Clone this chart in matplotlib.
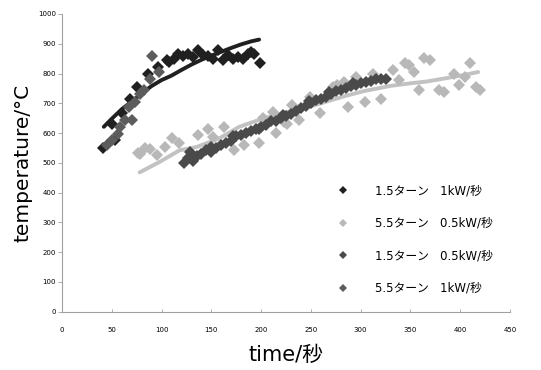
import matplotlib
matplotlib.use("Agg")
import matplotlib.pyplot as plt
from matplotlib.lines import Line2D

# --- data ---
labels = ["1.5ターン   1kW/秒", "5.5ターン   0.5kW/秒",
          "1.5ターン   0.5kW/秒", "5.5ターン   1kW/秒"]
colors = ["#202020", "#b8b8b8", "#4a4a4a", "#5c5c5c"]

# 1.5 turn, 1 kW/s
s1_x = [41, 50, 53, 60, 68, 75, 86, 96, 105, 107, 112, 117, 122, 127, 132, 137,
        142, 147, 152, 157, 162, 167, 172, 177, 182, 187, 190, 193, 199]
s1_y = [550, 632, 576, 666, 716, 755, 800, 822, 845, 839, 850, 865, 858, 867, 855, 878,
        862, 858, 850, 878, 845, 862, 850, 856, 848, 865, 872, 867, 834]
s1_line_x = [42, 50, 60, 70, 80, 90, 100, 110, 120, 130, 140, 150, 160, 170, 180, 190, 198]
s1_line_y = [621, 648, 680, 706, 733, 758, 778, 793, 812, 830, 846, 860, 873, 886, 898, 908, 914]

# 5.5 turn, 0.5 kW/s
s2_x = [76, 78, 83, 88, 95, 103, 110, 118, 137, 147, 152, 163, 173, 183, 198, 202,
        212, 215, 223, 226, 231, 238, 249, 259, 272, 276, 283, 287, 295, 304, 312, 320,
        332, 339, 345, 349, 354, 359, 364, 370, 379, 384, 394, 399, 405, 410, 416, 420]
s2_y = [532, 531, 549, 548, 526, 554, 582, 565, 593, 615, 588, 621, 542, 559, 565, 649,
        671, 599, 638, 632, 694, 643, 721, 666, 755, 761, 772, 688, 789, 705, 800, 716,
        811, 778, 834, 828, 806, 744, 851, 845, 744, 739, 800, 761, 789, 836, 755, 744]
s2_line_x = [78, 98, 118, 135, 158, 178, 202, 228, 250, 268, 285, 302, 329, 352, 366, 399, 418]
s2_line_y = [468, 503, 542, 553, 582, 621, 649, 672, 690, 708, 725, 740, 758, 768, 773, 792, 805]

# 1.5 turn, 0.5 kW/s
s3_x = [123, 127, 129, 132, 136, 140, 145, 150, 155, 160, 165, 170, 175, 180, 185, 190,
        195, 200, 205, 210, 215, 220, 225, 230, 235, 240, 245, 250, 255, 260, 265, 270,
        275, 280, 285, 290, 295, 300, 305, 310, 315, 320, 325,
        150, 172, 198, 222, 248, 268, 292]
s3_y = [500, 515, 537, 505, 522, 530, 542, 535, 550, 560, 568, 575, 590, 593, 600, 608,
        615, 622, 628, 640, 642, 650, 658, 665, 675, 683, 690, 700, 710, 716, 722, 732,
        740, 744, 752, 758, 762, 768, 772, 776, 780, 783, 780,
        552, 590, 612, 662, 708, 738, 768]

# 5.5 turn, 1 kW/s
s4_x = [45, 50, 56, 58, 63, 67, 70, 73, 78, 82, 88, 90, 97]
s4_y = [560, 578, 598, 620, 644, 688, 644, 705, 730, 745, 783, 858, 806]

xticks = list(range(0, 451, 50))
yticks = list(range(0, 1001, 100))

fig = plt.figure(figsize=(5.41, 3.70), dpi=100)
ax = fig.add_axes([0.1146, 0.1576, 0.8281, 0.8046])

ms = 6.0
# series drawn in worksheet order
ax.plot(s1_line_x, s1_line_y, color=colors[0], lw=2.8, solid_capstyle="round", zorder=2)
ax.plot(s1_x, s1_y, "D", color=colors[0], ms=ms, mew=0, zorder=2)
ax.plot(s2_line_x, s2_line_y, color="#c2c2c2", lw=2.8, solid_capstyle="round", zorder=3)
ax.plot(s2_x, s2_y, "D", color=colors[1], ms=ms, mew=0, zorder=3)
ax.plot(s3_x, s3_y, "D", color=colors[2], ms=ms, mew=0, zorder=4)
ax.plot(s4_x, s4_y, "D", color=colors[3], ms=ms, mew=0, zorder=5)

ax.set_xlim(0, 450)
ax.set_ylim(0, 1000)
ax.set_xticks(xticks)
ax.set_yticks(yticks)
for s in ["top", "right"]:
    ax.spines[s].set_visible(False)
for s in ["left", "bottom"]:
    ax.spines[s].set_color("#a0a0a0")
    ax.spines[s].set_linewidth(0.8)
ax.tick_params(axis="y", direction="out", length=3, width=0.6, color="#a0a0a0",
               labelsize=5, pad=1.5)
ax.tick_params(axis="x", direction="in", length=2, width=0.6, color="#a0a0a0",
               labelsize=5, pad=11)

cjk = ["DejaVu Sans", "Noto Sans CJK JP"]
ax.set_ylabel("temperature/°C", fontsize=14.5, family=cjk, labelpad=4)
ax.set_xlabel("time/秒", fontsize=15, family=cjk, labelpad=9)

handles = [Line2D([], [], ls="none", marker="D", color=c, ms=ms, mew=0) for c in colors]
ax.legend(handles, labels, loc="center left", bbox_to_anchor=(0.614, 0.2425),
          frameon=False, markerscale=0.7, handlelength=1.0, handletextpad=2.2,
          labelspacing=1.65, borderpad=0, borderaxespad=0,
          prop={"family": cjk, "size": 8.5})

fig.savefig("out.png", dpi=100)
